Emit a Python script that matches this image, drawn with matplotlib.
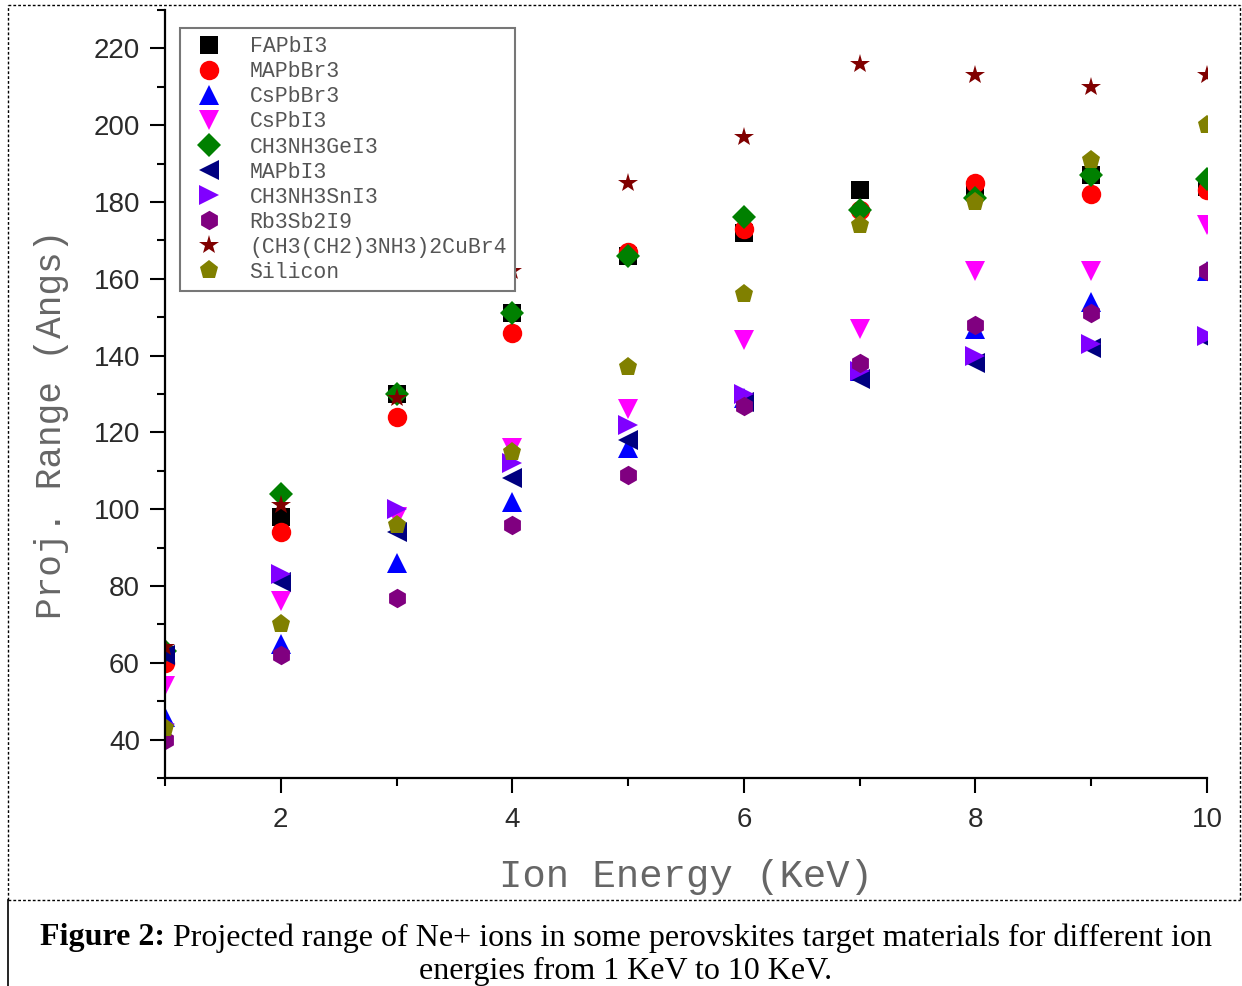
import matplotlib
matplotlib.use("Agg")
import matplotlib.pyplot as plt
from matplotlib.lines import Line2D
from matplotlib.ticker import MultipleLocator

energy = [1, 2, 3, 4, 5, 6, 7, 8, 9, 10]
labels = ["FAPbI3", "MAPbBr3", "CsPbBr3", "CsPbI3", "CH3NH3GeI3", "MAPbI3",
          "CH3NH3SnI3", "Rb3Sb2I9", "(CH3(CH2)3NH3)2CuBr4", "Silicon"]
fapbi3 = [62, 98, 130, 151, 166, 172, 183, 183, 187, 184]
mapbbr3 = [60, 94, 124, 146, 167, 173, 178, 185, 182, 183]
cspbbr3 = [46, 65, 86, 102, 116, 129, 136, 147, 154, 162]
cspbi3 = [54, 76, 98, 116, 126, 144, 147, 162, 162, 174]
ch3nh3gei3 = [63, 104, 130, 151, 166, 176, 178, 181, 187, 186]
mapbi3 = [62, 81, 94, 108, 118, 128, 134, 138, 142, 144]
ch3nh3sni3 = [44, 83, 100, 112, 122, 130, 136, 140, 143, 145]
rb3sb2i9 = [40, 62, 77, 96, 109, 127, 138, 148, 151, 162]
cubr4 = [64, 101, 129, 162, 185, 197, 216, 213, 210, 213]
silicon = [43, 70, 96, 115, 137, 156, 174, 180, 191, 200]

series = [fapbi3, mapbbr3, cspbbr3, cspbi3, ch3nh3gei3, mapbi3,
          ch3nh3sni3, rb3sb2i9, cubr4, silicon]
markers = ["s", "o", "^", "v", "D", "<", ">", "h", "*", "p"]
colors = ["#000000", "#ff0000", "#0000ff", "#ff00ff", "#008000", "#000080",
          "#8000ff", "#800080", "#800000", "#808000"]
sizes = [12.5, 14, 14, 14, 12, 14, 14, 14, 15, 14]

W, H = 1242, 986
fig = plt.figure(figsize=(W / 100, H / 100), dpi=100)
ax = fig.add_axes([165 / W, 1 - 778 / H, (1207 - 165) / W, (778 - 10) / H])

for vals, lab, m, c, s in zip(series, labels, markers, colors, sizes):
    ax.plot(energy, vals, linestyle="none", marker=m, color=c, markersize=s,
            markeredgewidth=0, label=lab)

ax.set_xlim(1, 10)
ax.set_ylim(30, 230)
ax.xaxis.set_major_locator(MultipleLocator(2))
ax.xaxis.set_minor_locator(MultipleLocator(1))
ax.yaxis.set_major_locator(MultipleLocator(20))
ax.yaxis.set_minor_locator(MultipleLocator(10))
ax.set_yticks([40, 60, 80, 100, 120, 140, 160, 180, 200, 220])
ax.spines["top"].set_visible(False)
ax.spines["right"].set_visible(False)
for sp in ("left", "bottom"):
    ax.spines[sp].set_linewidth(1.6)
ax.tick_params(which="major", direction="out", length=11, width=1.5,
               labelsize=20, labelcolor="#2a2a2a", pad=7)
ax.tick_params(axis="x", which="major", pad=10)
ax.tick_params(which="minor", direction="out", length=6, width=1.5)
for t in ax.get_xticklabels() + ax.get_yticklabels():
    t.set_fontfamily("Liberation Sans")

ax.set_xlabel("Ion Energy (KeV)", family="Liberation Mono", fontsize=28,
              color="#666666")
ax.set_ylabel("Proj. Range (Angs)", family="Liberation Mono", fontsize=26,
              color="#666666")
ax.xaxis.set_label_coords(0.5, -0.105)
ax.yaxis.set_label_coords(-0.092, 0.46)

leg = ax.legend(loc="upper left", bbox_to_anchor=(15 / 1042, (778 - 28) / 768),
                borderaxespad=0, fancybox=False, frameon=True, numpoints=1,
                prop={"family": "Liberation Mono", "size": 15.5},
                labelspacing=0.19, handlelength=1.9, handletextpad=0.95,
                borderpad=0.38, framealpha=1.0)
leg.get_frame().set_edgecolor("#777777")
leg.get_frame().set_linewidth(1.5)
for t in leg.get_texts():
    t.set_color("#555555")

# dashed border of the figure box
kw = dict(transform=fig.transFigure, color="black", linewidth=1.0,
          linestyle=(0, (2, 1.5)))
x0, x1 = 8 / W, 1240 / W
yt, yb = 1 - 5 / H, 1 - 900 / H
fig.add_artist(Line2D([x0, x1], [yt, yt], **kw))
fig.add_artist(Line2D([x0, x1], [yb, yb], **kw))
fig.add_artist(Line2D([x0, x0], [yb, yt], **kw))
fig.add_artist(Line2D([x1, x1], [yb, yt], **kw))
fig.add_artist(Line2D([x0, x0], [0, yb], transform=fig.transFigure,
                      color="black", linewidth=1.2))

# caption
cap_bold = "Figure 2:"
cap_rest = " Projected range of Ne+ ions in some perovskites target materials for different ion"
cap_line2 = "energies from 1 KeV to 10 KeV."
fs = 23
y1 = 1 - 938 / H
tb = fig.text(0, y1, cap_bold, family="Liberation Serif", fontsize=fs,
              fontweight="bold", va="center", ha="left")
tr = fig.text(0, y1, cap_rest, family="Liberation Serif", fontsize=fs,
              va="center", ha="left")
fig.canvas.draw()
r = fig.canvas.get_renderer()
wb = tb.get_window_extent(r).width
wr = tr.get_window_extent(r).width
start = (626 - (wb + wr) / 2)
tb.set_x(start / W)
tr.set_x((start + wb) / W)
fig.text(626 / W, 1 - 971 / H, cap_line2, family="Liberation Serif",
         fontsize=fs, va="center", ha="center")

fig.savefig("out.png", dpi=100)
